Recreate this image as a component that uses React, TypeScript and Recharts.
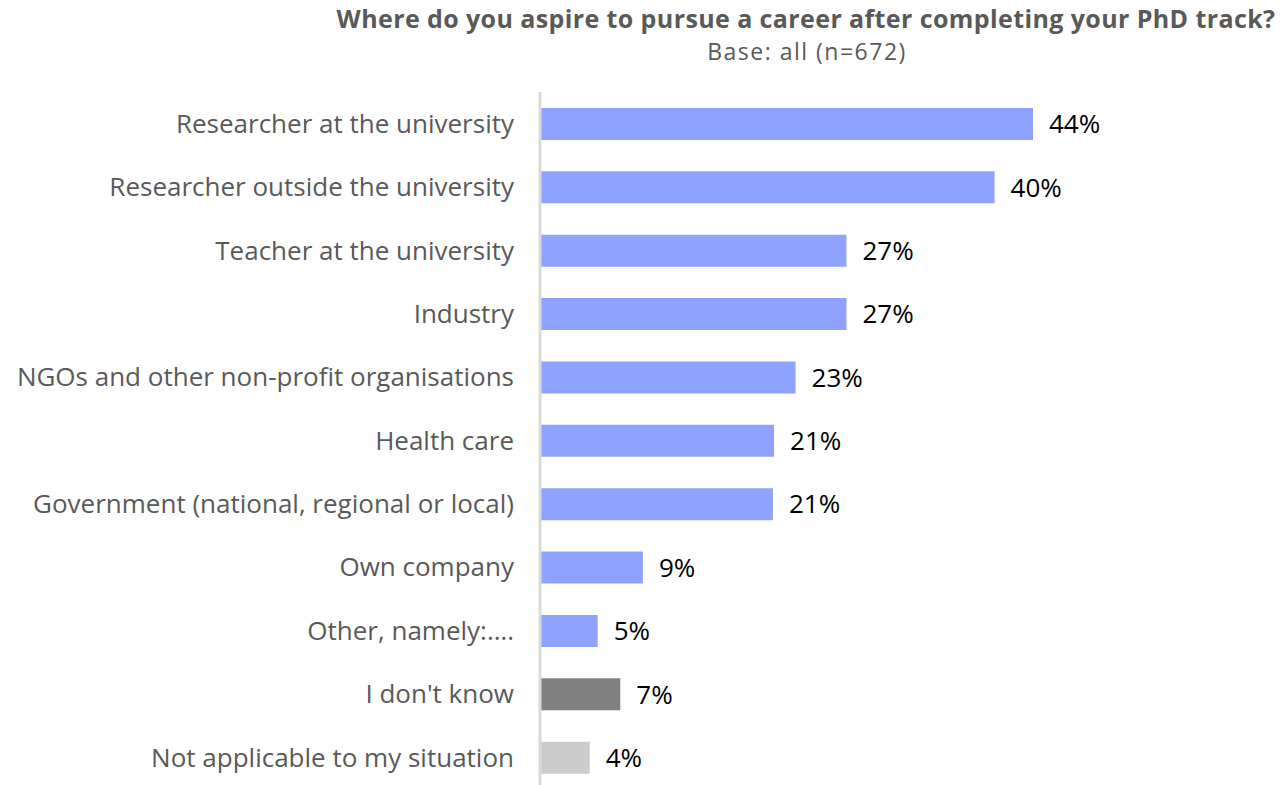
import React from 'react';
import { BarChart, Bar, XAxis, YAxis, Cell, LabelList } from 'recharts';

const categories = [
  'Researcher at the university',
  'Researcher outside the university',
  'Teacher at the university',
  'Industry',
  'NGOs and other non-profit organisations',
  'Health care',
  'Government (national, regional or local)',
  'Own company',
  'Other, namely:….',
  "I don't know",
  'Not applicable to my situation',
];
const values = [43.6, 40.2, 27.1, 27.1, 22.6, 20.7, 20.6, 9.1, 5.1, 7.1, 4.4];
const colors = [
  '#8FA2FF', '#8FA2FF', '#8FA2FF', '#8FA2FF', '#8FA2FF', '#8FA2FF',
  '#8FA2FF', '#8FA2FF', '#8FA2FF', '#808080', '#CCCCCC',
];
const titleText = 'Where do you aspire to pursue a career after completing your PhD track?';
const subtitleText = 'Base: all (n=672)';

const data = categories.map((name, i) => ({ name, value: values[i], color: colors[i] }));

const FONT = '"Open Sans", Lato, sans-serif';

export default function App() {
  return (
    <div
      style={{
        position: 'absolute',
        left: 0,
        top: 0,
        width: 1283,
        height: 785,
        overflow: 'hidden',
        background: '#fff',
        fontFamily: FONT,
      }}
    >
      <svg width={1283} height={80} style={{ position: 'absolute', left: 0, top: 0 }}>
        <text x={806} y={28} textAnchor="middle" fontFamily={FONT} fontWeight={700} fontSize={25} letterSpacing={0.4} fill="#595959">
          {titleText}
        </text>
        <text x={807} y={60} textAnchor="middle" fontFamily={FONT} fontSize={23} letterSpacing={1.5} fill="#595959">
          {subtitleText}
        </text>
      </svg>
      <div style={{ position: 'absolute', left: 0, top: 0 }}>
        <BarChart
          width={1283}
          height={789}
          data={data}
          layout="vertical"
          margin={{ top: 92, right: 8, bottom: 0, left: 0 }}
        >
          <XAxis type="number" hide domain={[0, 65]} />
          <YAxis
            type="category"
            dataKey="name"
            width={540}
            interval={0}
            tickLine={false}
            tickSize={0}
            tickMargin={26}
            axisLine={{ stroke: '#D9D9D9', strokeWidth: 3 }}
            tick={{ fill: '#595959', fontSize: 26, fontFamily: FONT }}
          />
          <Bar dataKey="value" barSize={32} isAnimationActive={false}>
            {data.map((d, i) => (
              <Cell key={i} fill={d.color} />
            ))}
            <LabelList
              dataKey="value"
              position="right"
              offset={16}
              formatter={(v: number) => `${Math.round(v)}%`}
              style={{ fill: '#000', fontSize: 26, fontFamily: FONT }}
            />
          </Bar>
        </BarChart>
      </div>
    </div>
  );
}
